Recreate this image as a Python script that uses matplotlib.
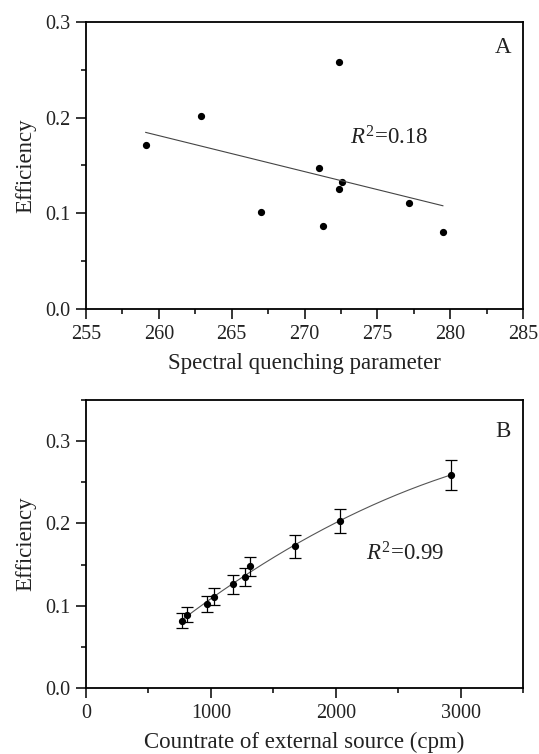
import matplotlib
matplotlib.use("Agg")
import matplotlib.pyplot as plt
from matplotlib.ticker import MultipleLocator, FormatStrFormatter
import numpy as np

plt.rcParams['font.family'] = ['Liberation Serif', 'DejaVu Serif']
plt.rcParams['mathtext.fontset'] = 'custom'
plt.rcParams['mathtext.rm'] = 'Liberation Serif'
plt.rcParams['mathtext.it'] = 'Liberation Serif:italic'

# panel A: efficiency vs spectral quenching parameter
sqp = [259.1, 262.9, 267.0, 271.0, 271.3, 272.4, 272.4, 272.6, 277.2, 279.5]
eff_a = [0.171, 0.202, 0.101, 0.147, 0.087, 0.258, 0.125, 0.133, 0.111, 0.081]

# panel B: efficiency vs countrate of external source
cpm = [766, 806, 971, 1025, 1180, 1276, 1313, 1673, 2034, 2920]
eff_b = [0.082, 0.089, 0.102, 0.111, 0.126, 0.135, 0.148, 0.172, 0.203, 0.259]
err_b = [0.0087, 0.0091, 0.0096, 0.0104, 0.0114, 0.0112, 0.0118, 0.0136, 0.0148, 0.018]

FONTSIZE = 14.5
FONTSIZE_LABEL = 16.5
TEXT_COLOR = '#222222'

fig = plt.figure(figsize=(5.39, 7.54), dpi=100)
axA = fig.add_axes([86/539, 1-309/754, 437/539, 287/754])
axB = fig.add_axes([86/539, 1-688/754, 437/539, 288/754])


def style_axes(ax):
    for s in ax.spines.values():
        s.set_linewidth(1.3)
    ax.tick_params(which='major', direction='out', length=7, width=1.1, pad=4.5,
                   labelsize=FONTSIZE, labelcolor=TEXT_COLOR, top=False, right=False)
    ax.tick_params(which='minor', direction='out', length=3.6, width=1.1,
                   top=False, right=False)


# A
axA.plot(sqp, eff_a, 'o', color='black', markersize=4.2)
k, b = np.polyfit(sqp, eff_a, 1)
xs = np.array([min(sqp), max(sqp)])
axA.plot(xs, k*xs + b, color='#444444', linewidth=0.8)
axA.set_xlim(255, 285)
axA.set_ylim(0, 0.3)
axA.xaxis.set_major_locator(MultipleLocator(5))
axA.xaxis.set_minor_locator(MultipleLocator(2.5))
axA.yaxis.set_major_locator(MultipleLocator(0.1))
axA.yaxis.set_minor_locator(MultipleLocator(0.05))
axA.yaxis.set_major_formatter(FormatStrFormatter('%.1f'))
axA.set_xlabel('Spectral quenching parameter', fontsize=FONTSIZE_LABEL, color=TEXT_COLOR, labelpad=6.5)
axA.set_ylabel('Efficiency', fontsize=FONTSIZE_LABEL, color=TEXT_COLOR, labelpad=6)
axA.text(0.955, 0.91, 'A', transform=axA.transAxes, ha='center', va='center',
         fontsize=16.5, color=TEXT_COLOR)
axA.text(0.605, 0.595, r'$R^2$=0.18', transform=axA.transAxes, ha='left', va='center',
         fontsize=16.5, color=TEXT_COLOR)
style_axes(axA)

# B
coef = np.polyfit(cpm, eff_b, 2)
xc = np.linspace(min(cpm), max(cpm), 200)
axB.plot(xc, np.polyval(coef, xc), color='#555555', linewidth=0.8)
axB.errorbar(cpm, eff_b, yerr=err_b, fmt='o', color='black', markersize=4.2,
             elinewidth=0.9, capsize=4, capthick=0.9)
axB.set_xlim(0, 3500)
axB.set_ylim(0, 0.35)
axB.xaxis.set_major_locator(MultipleLocator(1000))
axB.xaxis.set_minor_locator(MultipleLocator(500))
axB.yaxis.set_major_locator(MultipleLocator(0.1))
axB.yaxis.set_minor_locator(MultipleLocator(0.05))
axB.yaxis.set_major_formatter(FormatStrFormatter('%.1f'))
axB.set_xlabel('Countrate of external source (cpm)', fontsize=FONTSIZE_LABEL, color=TEXT_COLOR, labelpad=6.5)
axB.set_ylabel('Efficiency', fontsize=FONTSIZE_LABEL, color=TEXT_COLOR, labelpad=6)
axB.text(0.955, 0.89, 'B', transform=axB.transAxes, ha='center', va='center',
         fontsize=16.5, color=TEXT_COLOR)
axB.text(0.64, 0.465, r'$R^2$=0.99', transform=axB.transAxes, ha='left', va='center',
         fontsize=16.5, color=TEXT_COLOR)
style_axes(axB)

fig.savefig('out.png', dpi=100)
